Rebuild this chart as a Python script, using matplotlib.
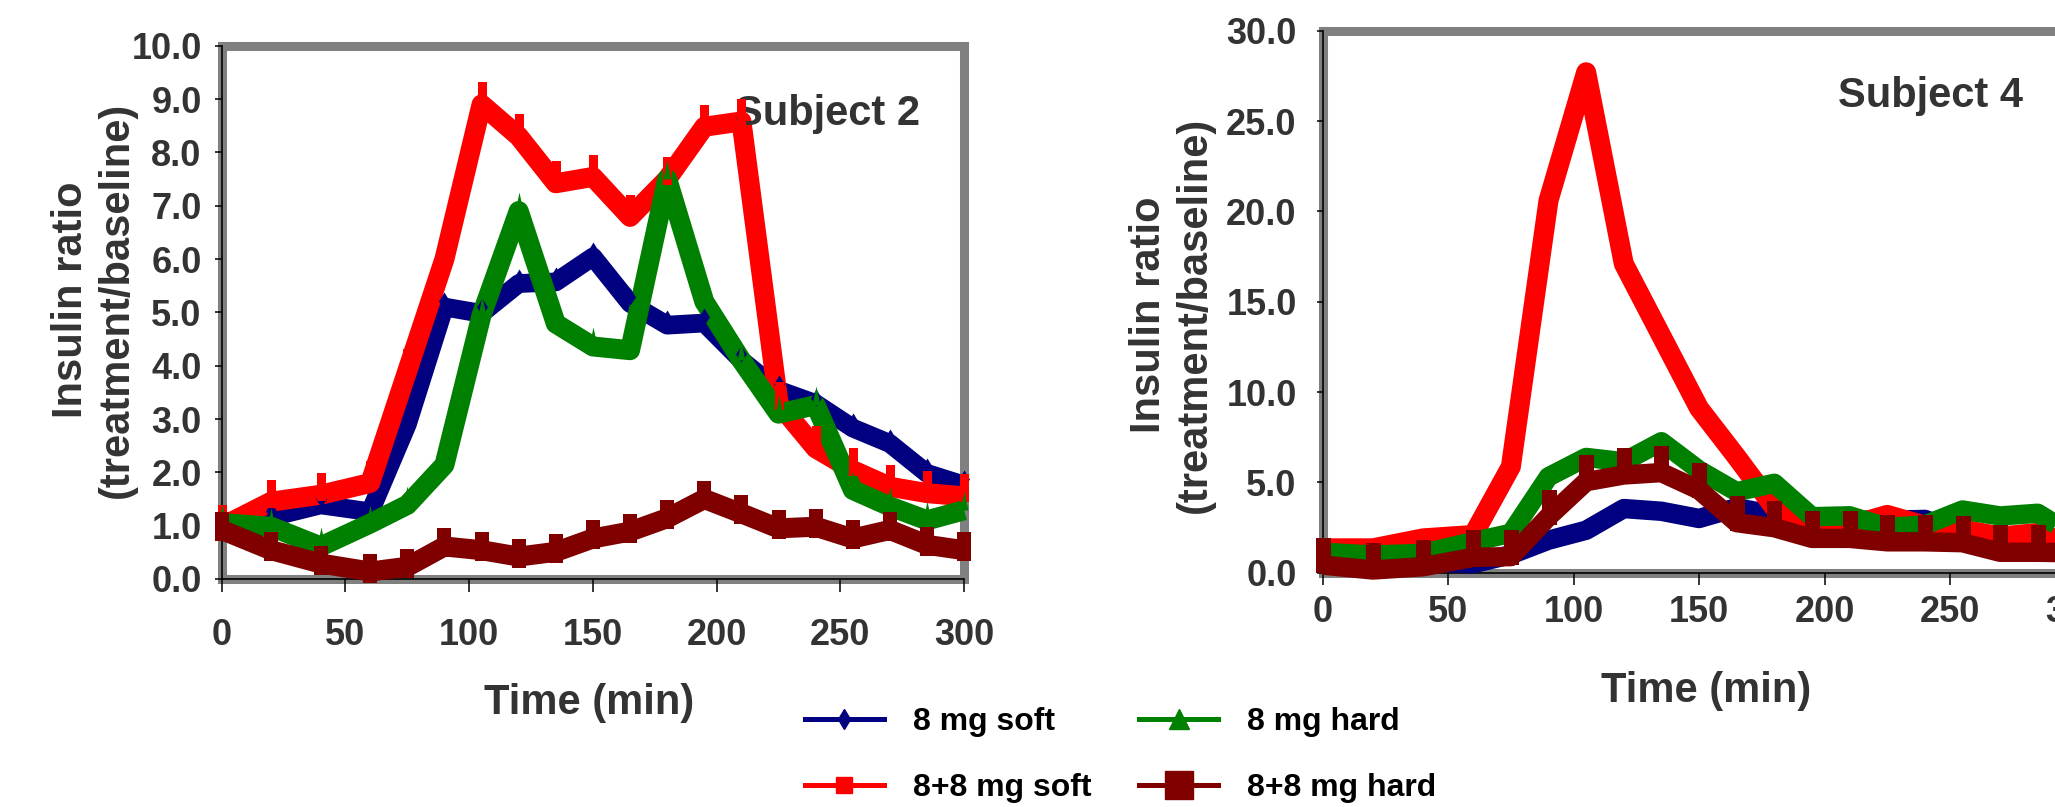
import numpy as np
import matplotlib
matplotlib.use("Agg")
import matplotlib.pyplot as plt
from matplotlib.path import Path
from matplotlib.lines import Line2D
from matplotlib.ticker import FormatStrFormatter, MultipleLocator

DPI = 100
plt.rcParams['font.family'] = ['Liberation Sans', 'DejaVu Sans']
plt.rcParams['font.weight'] = 'bold'

times = [0, 20, 40, 60, 75, 90, 105, 120, 135, 150, 165, 180, 195, 210, 225, 240, 255, 270, 285, 300]

# Subject 2
soft8_s2 = [1.05, 1.16, 1.39, 1.26, 2.9, 5.1, 4.98, 5.54, 5.57, 6.04, 5.17, 4.76, 4.8, 4.1, 3.54, 3.29, 2.83, 2.54, 1.98, 1.76]
soft16_s2 = [0.98, 1.45, 1.58, 1.8, 3.9, 6.0, 8.9, 8.3, 7.42, 7.54, 6.79, 7.5, 8.48, 8.58, 3.29, 2.45, 2.04, 1.73, 1.61, 1.55]
hard8_s2 = [1.05, 0.98, 0.61, 1.04, 1.39, 2.14, 4.95, 6.9, 4.79, 4.36, 4.29, 7.5, 5.2, 4.1, 3.1, 3.26, 1.67, 1.36, 1.1, 1.29]
hard16_s2 = [0.92, 0.54, 0.29, 0.14, 0.23, 0.61, 0.54, 0.42, 0.51, 0.76, 0.89, 1.14, 1.5, 1.23, 0.95, 0.98, 0.76, 0.92, 0.64, 0.54]

# Subject 4
soft8_s4 = [0.8, 0.5, 0.6, 0.5, 1.0, 1.8, 2.35, 3.55, 3.4, 3.0, 3.6, 3.2, 3.0, 2.9, 2.9, 2.95, 2.2, 1.9, 1.7, 1.5]
soft16_s4 = [1.35, 1.35, 1.9, 2.09, 5.87, 20.6, 27.7, 17.1, 13.1, 9.1, 6.4, 3.6, 2.8, 2.6, 3.2, 2.6, 2.4, 2.0, 2.2, 1.5]
hard8_s4 = [1.13, 0.98, 1.07, 1.72, 2.18, 5.31, 6.38, 6.14, 7.25, 5.68, 4.48, 4.95, 3.1, 3.15, 2.51, 2.64, 3.47, 3.14, 3.29, 2.0]
hard16_s4 = [0.42, 0.15, 0.33, 0.85, 0.89, 3.1, 5.04, 5.41, 5.54, 4.58, 2.77, 2.49, 1.9, 1.9, 1.71, 1.71, 1.66, 1.13, 1.13, 1.1]

labels = ["8 mg soft", "8+8 mg soft", "8 mg hard", "8+8 mg hard"]
colors = ["#000080", "#ff0000", "#008000", "#800000"]
TXT = "#333333"
FRAME = "#808080"


def px_marker(verts):
    # custom marker given in pixels, size chosen so that the path keeps its pixel size
    verts = np.asarray(verts, float)
    size = 2 * np.abs(verts).max() * 72 / DPI
    codes = [Path.MOVETO] + [Path.LINETO] * (len(verts) - 1) + [Path.CLOSEPOLY]
    return Path(np.vstack([verts, verts[:1]]), codes), size


def draw(ax, data, lws, marks):
    for i, (vals, c) in enumerate(zip(data, colors)):
        ax.plot(times, vals, color=c, lw=lws[i], solid_joinstyle='round',
                solid_capstyle='butt', zorder=2 + i * 0.1, clip_on=False)
    for i, (vals, c) in enumerate(zip(data, colors)):
        if marks[i] is None:
            continue
        path, ms = marks[i]
        ax.plot(times, vals, ls='none', marker=path, ms=ms, color=c, mew=0,
                zorder=3 + i * 0.1, clip_on=False)


def style(ax, ymax, ystep, xtick_len, ytick_len, xpad, ypad):
    ax.set_xlim(0, 300)
    ax.set_ylim(0, ymax)
    ax.xaxis.set_major_locator(MultipleLocator(50))
    ax.yaxis.set_major_locator(MultipleLocator(ystep))
    ax.yaxis.set_major_formatter(FormatStrFormatter('%.1f'))
    for s in ax.spines.values():
        s.set_color(FRAME)
        s.set_linewidth(6.5)
        s.set_zorder(1)
    ax.axvline(0, color='black', lw=1.2, zorder=1.2, clip_on=False)
    ax.axhline(0, color='black', lw=1.2, zorder=1.2, clip_on=False)
    ax.tick_params(axis='x', direction='out', length=xtick_len, width=1.1, color='black',
                   labelsize=26, labelcolor=TXT, pad=xpad)
    ax.tick_params(axis='y', direction='out', length=ytick_len, width=1.1, color='black',
                   labelsize=26, labelcolor=TXT, pad=ypad)
    ax.tick_params(top=False, right=False)
    for t in ax.get_xticklabels() + ax.get_yticklabels():
        t.set_fontweight('bold')
    ax.set_xlabel("Time (min)", fontsize=30, fontweight='bold', color=TXT)
    ax.set_ylabel("Insulin ratio\n(treatment/baseline)", fontsize=30, fontweight='bold', color=TXT)
    ax.xaxis.label.set_va('baseline')


fig = plt.figure(figsize=(20.55, 8.07), dpi=DPI)

# left panel: Subject 2
ax1 = fig.add_axes([0.10788, 0.28253, 0.36131, 0.66084])
marks_s2 = [
    px_marker([(0, -2), (5.5, 6), (0, 15), (-5.5, 6)]),
    px_marker([(-4.5, -6), (4.5, -6), (4.5, 22), (-4.5, 22)]),
    px_marker([(-4, 0), (4, 0), (0, 19)]),
    px_marker([(-7, -11), (7, -11), (7, 18), (-7, 18)]),
]
draw(ax1, [soft8_s2, soft16_s2, hard8_s2, hard16_s2], [13.5, 14.4, 14.4, 14.4], marks_s2)
style(ax1, 10, 1, 9.4, 5, 18.4, 9.4)
ax1.xaxis.set_label_coords(0.4947, -0.253)
ax1.yaxis.set_label_coords(-0.114, 0.523)
ax1.text(0.691, 0.851, "Subject 2", transform=ax1.transAxes, fontsize=30,
         fontweight='bold', color=TXT, va='baseline', ha='left')

# right panel: Subject 4
ax2 = fig.add_axes([0.64365, 0.29034, 0.36628, 0.67162])
marks_s4 = [None, None, None, px_marker([(-7.5, -8), (7.5, -8), (7.5, 27), (-7.5, 27)])]
draw(ax2, [soft8_s4, soft16_s4, hard8_s4, hard16_s4], [14.0, 14.4, 14.0, 14.0], marks_s4)
style(ax2, 30, 5, 8.6, 4.3, 7.4, 14.4)
ax2.xaxis.set_label_coords(0.509, -0.238)
ax2.yaxis.set_label_coords(-0.143, 0.475)
ax2.text(0.685, 0.859, "Subject 4", transform=ax2.transAxes, fontsize=30,
         fontweight='bold', color=TXT, va='baseline', ha='left')

# legend
leg_markers = [('d', 10), ('s', 12), ('^', 14.4), ('s', 20)]
handles = [Line2D([], [], color=c, lw=3.6, marker=m, ms=ms, mec=c, mfc=c)
           for c, (m, ms) in zip(colors, leg_markers)]
fig.legend(handles, labels, ncol=2, loc='upper left', bbox_to_anchor=(0.3915, 0.124),
           frameon=False, handlelength=2.5, handletextpad=0.9, columnspacing=1.47,
           labelspacing=1.12, borderpad=0, borderaxespad=0,
           prop={'family': 'Liberation Sans', 'weight': 'bold', 'size': 23})

fig.savefig("out.png", dpi=DPI)
